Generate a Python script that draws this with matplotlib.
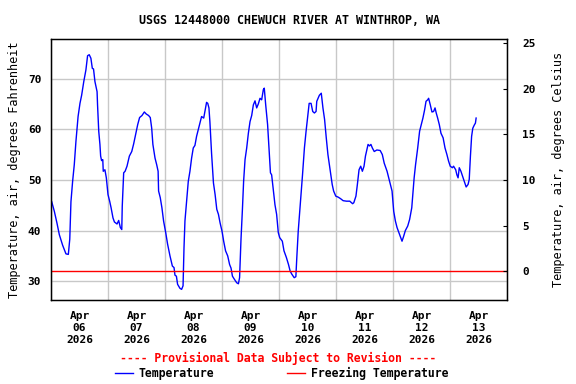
import numpy as np
import pandas as pd
import matplotlib
matplotlib.use("Agg")
import matplotlib.pyplot as plt
import matplotlib.dates as mdates
from matplotlib.lines import Line2D

# Readings (hours after 2026-04-06 00:00, air temperature in deg F)
hours = [
    0.3, 1.4, 2.5, 3.5, 4.9, 6.3, 7.3, 7.9, 8.4, 9.1, 9.8, 10.5, 11.4, 12.2, 12.9,
    13.8, 14.7, 15.4, 16.1, 16.8, 17.4, 17.9, 18.5, 19.4, 19.6, 20.1, 20.6, 20.9,
    21.3, 21.8, 22.0, 22.7, 23.3, 24.0, 24.7, 25.3, 26.1, 26.7, 27.8, 28.5, 29.2,
    29.8, 30.0, 30.6, 31.2, 32.0, 33.0, 34.0, 34.8, 35.6, 36.5, 37.3, 38.3, 39.3,
    40.1, 41.1, 41.8, 42.4, 42.9, 43.8, 44.5, 45.1, 45.3, 46.0, 46.7, 47.4,
    48.3, 49.1, 50.1, 51.1, 51.8, 52.2, 52.8, 53.3, 54.3, 55.0, 55.6, 56.0, 56.4,
    57.1, 57.8, 58.5, 59.2, 59.9, 60.6, 61.3, 62.0, 62.7, 63.4, 64.3, 64.8, 65.5,
    66.0, 66.5, 66.9, 67.6, 68.4, 69.1, 69.8, 70.5, 71.2, 72.0, 72.7, 73.5, 74.4,
    75.2, 75.8, 76.4, 77.2, 78.2, 78.9, 79.4, 80.0, 80.6, 81.1, 81.7, 82.4, 83.1,
    83.8, 84.5, 85.2, 85.9, 86.6, 87.3, 88.0, 88.7, 89.4, 89.8, 90.4, 91.2, 91.8,
    92.4, 92.9, 93.6, 94.3, 95.0, 95.7,
    96.3, 97.4, 98.1, 99.1, 100.0, 100.7, 101.4, 102.4, 103.1, 103.5, 104.1, 104.8,
    105.4, 105.9, 106.7, 107.4, 108.1, 108.7, 109.5, 110.2, 110.9, 111.6, 111.9,
    112.6, 113.0, 113.8, 114.5, 115.2, 115.9, 116.6, 117.6, 118.4, 119.0, 119.9,
    120.9, 121.9, 123.0, 124.4, 125.8, 127.0, 127.5, 128.4, 129.0, 129.7, 130.4,
    131.1, 131.8, 132.4, 133.0, 133.5, 134.1, 134.7, 135.3, 136.1, 137.2, 138.6,
    139.5, 140.3, 141.5, 142.6, 143.6,
    144.3, 145.0, 145.7, 146.8, 147.8, 148.5, 149.2, 150.2, 151.0, 151.9, 152.4,
    152.9, 153.5, 154.4, 155.2, 155.9, 156.6, 157.3, 157.9, 158.6, 159.0, 159.7,
    160.4, 161.1, 161.7, 162.2, 162.8, 163.5, 164.2, 165.1, 165.9, 166.7, 167.4,
    168.1, 169.0, 169.5, 170.4, 170.9, 171.4, 171.9, 172.6, 173.3, 174.0, 174.8,
    175.6, 176.1, 176.6, 177.1, 177.6, 178.2, 178.7, 179.0,
]
temp_f = [
    45.7, 43.8, 41.5, 39.2, 37.1, 35.4, 35.3, 38.3, 45.7, 49.7, 53.0, 57.6, 62.5, 65.1, 66.7,
    69.4, 71.7, 74.5, 74.7, 74.0, 72.0, 71.9, 69.4, 67.4, 64.8, 59.6, 57.0, 54.7,
    53.8, 54.0, 51.7, 52.0, 50.4, 47.1, 45.8, 44.5, 42.5, 41.7, 41.3, 42.0, 40.6,
    40.2, 44.8, 51.4, 51.7, 52.7, 54.7, 55.6, 57.1, 58.9, 60.9, 62.3, 62.7, 63.4,
    63.0, 62.7, 62.3, 60.2, 57.0, 54.3, 53.0, 51.7, 47.8, 46.5, 44.5, 41.9,
    39.6, 37.3, 35.0, 33.0, 32.7, 31.2, 31.0, 29.4, 28.6, 28.4, 29.1, 36.6, 41.9,
    45.8, 49.7, 51.7, 54.3, 56.3, 56.8, 58.6, 59.9, 61.2, 62.5, 62.2, 63.5, 65.3,
    65.1, 64.2, 61.5, 55.3, 49.4, 47.1, 44.2, 43.2, 41.5, 39.9, 37.9, 36.0, 35.0,
    33.3, 32.6, 31.0, 30.4, 29.7, 29.5, 30.7, 38.3, 44.2, 49.7, 54.0, 56.3, 59.2,
    61.5, 62.7, 64.8, 65.6, 64.2, 65.0, 66.1, 65.8, 67.8, 68.1, 64.8, 60.9, 56.3,
    51.4, 51.0, 48.1, 45.1, 43.2, 39.6,
    38.6, 37.9, 36.0, 34.7, 33.3, 32.0, 31.4, 30.7, 30.9, 34.7, 39.9, 44.2,
    47.8, 51.0, 56.3, 59.6, 62.5, 65.1, 65.1, 63.5, 63.2, 63.5, 65.5,
    66.3, 66.7, 67.1, 64.2, 61.9, 58.3, 55.0, 51.7, 49.1, 47.8, 46.8,
    46.6, 46.3, 45.9, 45.8, 45.8, 45.3, 45.5, 46.8, 49.1, 52.0, 52.7,
    51.7, 52.7, 54.7, 56.0, 57.0, 56.7, 57.0, 56.3, 55.6, 55.9, 55.8,
    55.0, 53.3, 51.7, 49.7, 47.8,
    43.8, 41.9, 40.6, 39.2, 37.9, 38.9, 40.0, 40.9, 42.2, 44.5, 47.4,
    50.4, 53.0, 56.3, 59.6, 60.9, 62.2, 63.8, 65.5, 65.8, 66.1, 64.8,
    63.4, 63.5, 64.2, 63.2, 62.2, 60.9, 59.2, 58.3, 56.3, 55.0, 53.7,
    52.7, 52.4, 52.7, 52.0, 51.0, 50.4, 52.4, 51.7, 50.7, 49.7, 48.6,
    49.1, 50.1, 54.7, 58.6, 60.2, 60.8, 61.2, 62.2,
]
freezing_f = 32
f_ticks = [30, 40, 50, 60, 70]
c_ticks = [0, 5, 10, 15, 20, 25]

start = pd.Timestamp("2026-04-06 00:00")
times = start + pd.to_timedelta(hours, unit="h")

mono = "DejaVu Sans Mono"
plt.rcParams["font.family"] = mono
plt.rcParams["font.weight"] = "bold"

fig = plt.figure(figsize=(5.76, 3.84), dpi=100)
ax = fig.add_axes([51 / 576, 1 - 300 / 384, 456 / 576, 261 / 384])

ax.plot(times, temp_f, color="#0000ff", lw=1)
ax.axhline(freezing_f, color="#ff0000", lw=1)

ax.set_xlim(start, start + pd.Timedelta(days=8))
ax.set_ylim(26.3, 77.8)

ax.xaxis.set_major_locator(mdates.DayLocator())
ax.xaxis.set_major_formatter(plt.NullFormatter())
ax.xaxis.set_minor_locator(mdates.HourLocator(byhour=[12]))
ax.xaxis.set_minor_formatter(mdates.DateFormatter("%b\n%d\n%Y"))
ax.tick_params(axis="x", which="both", length=0, pad=8, labelsize=8)
ax.set_yticks(f_ticks)
ax.tick_params(axis="y", length=0, pad=7, labelsize=8)
ax.grid(True, which="major", color="#c8c8c8", lw=1)
for lab in ax.xaxis.get_minorticklabels():
    lab.set_linespacing(1.25)
for s in ax.spines.values():
    s.set_linewidth(1)

ax.set_ylabel("Temperature, air, degrees Fahrenheit", fontsize=8.6, labelpad=5)

ax2 = ax.twinx()
lo, hi = ax.get_ylim()
ax2.set_ylim((lo - 32) * 5 / 9, (hi - 32) * 5 / 9)
ax2.set_yticks(c_ticks)
ax2.tick_params(axis="y", direction="in", length=3, pad=11, labelsize=8)
ax2.set_ylabel("Temperature, air, degrees Celsius", fontsize=8.6, labelpad=12)

fig.text(0.503, 1 - 20 / 384, "USGS 12448000 CHEWUCH RIVER AT WINTHROP, WA",
         ha="center", va="center", fontsize=8.4)
fig.text(0.483, 1 - 358 / 384, "---- Provisional Data Subject to Revision ----",
         ha="center", va="center", fontsize=8.3, color="#ff0000")

handles = [Line2D([], [], color="#0000ff", lw=1), Line2D([], [], color="#ff0000", lw=1)]
fig.legend(handles, ["Temperature", "Freezing Temperature"], loc="center",
           bbox_to_anchor=(0.489, 1 - 373 / 384), ncol=2, frameon=False,
           fontsize=8.3, handlelength=1.6, handletextpad=0.5, columnspacing=6.3,
           borderpad=0, borderaxespad=0)

fig.savefig("out.png", dpi=100)
